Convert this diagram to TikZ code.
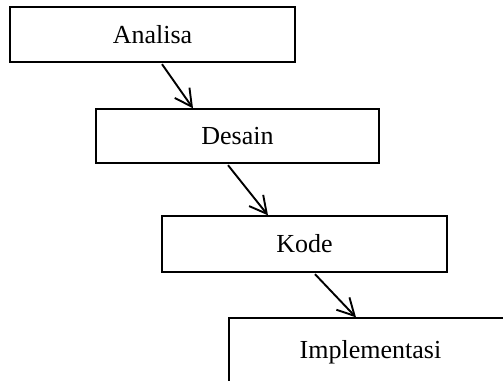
\documentclass[tikz,border=0pt]{standalone}
\usepackage{fontspec}
\setmainfont{Liberation Serif}
\usetikzlibrary{arrows.meta}
\begin{document}
\begin{tikzpicture}[x=1pt,y=1pt,
  stagebox/.style={draw=black, line width=1.3pt, inner sep=0pt, text height=17pt, text depth=0pt,
    font=\fontsize{26}{30}\selectfont},
  flow/.style={line width=1.9pt, -{Straight Barb[length=17pt,width=18pt,line width=1.9pt]}}]
\clip (0,0) rectangle (503,-380);
\fill[white] (0,0) rectangle (503,-380);
\node[stagebox, minimum width=285pt, minimum height=55pt] (a) at (152.5,-34.5) {Analisa};
\node[stagebox, minimum width=283pt, minimum height=54pt] (b) at (237.5,-136) {Desain};
\node[stagebox, minimum width=285pt, minimum height=56pt] (c) at (304.5,-244) {Kode};
\node[stagebox, minimum width=283pt, minimum height=64pt] (d) at (370.5,-350) {Implementasi};
\draw[flow] ([xshift=9.5pt,yshift=-1.5pt]a.south) -- ([xshift=-44.5pt]b.north);
\draw[flow] ([xshift=-9.5pt,yshift=-1.5pt]b.south) -- ([xshift=-36.5pt]c.north);
\draw[flow] ([xshift=10.5pt,yshift=-1.5pt]c.south) -- ([xshift=-14.5pt]d.north);
\end{tikzpicture}
\end{document}
